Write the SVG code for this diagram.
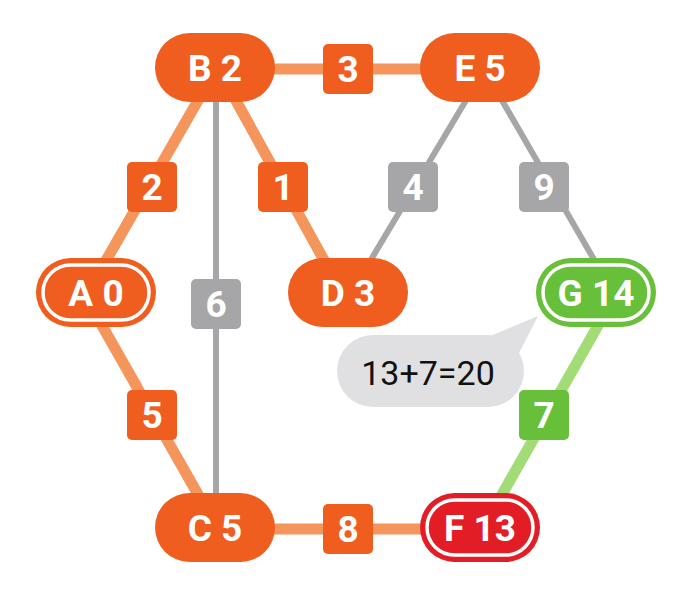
<svg xmlns="http://www.w3.org/2000/svg" width="691" height="590" viewBox="0 0 691 590">
<style>
.e-or{stroke:#F4955C;stroke-width:11;fill:none}
.e-gr{stroke:#A6A6A8;stroke-width:6;fill:none}
.e-gn{stroke:#A3DB77;stroke-width:11;fill:none}
.n-or{fill:#EF5E1E}
.n-gn{fill:#67BF3A}
.n-rd{fill:#E31D25}
.ring{fill:none;stroke:#FFFFFF;stroke-width:3.5}
.t{font-family:Roboto,"Liberation Sans",sans-serif;font-weight:bold;font-size:37px;fill:#FFFFFF;text-anchor:middle}
.l-or{fill:#EF5E1E}
.l-gr{fill:#A6A6A8}
.l-gn{fill:#67BF3A}
</style>
<rect width="691" height="590" fill="#FFFFFF"/>
<g id="connectors">
<line class="e-or" x1="104" y1="264" x2="200" y2="97"/>
<line class="e-or" x1="234" y1="97" x2="325" y2="262"/>
<line class="e-or" x1="270" y1="69" x2="425" y2="69"/>
<line class="e-gr" x1="216" y1="100" x2="216" y2="496"/>
<line class="e-gr" x1="468" y1="97" x2="369" y2="263"/>
<line class="e-gr" x1="500" y1="97" x2="596" y2="263"/>
<line class="e-or" x1="100" y1="322" x2="200" y2="498"/>
<line class="e-or" x1="270" y1="529" x2="425" y2="529"/>
<line class="e-gn" x1="600" y1="322" x2="500" y2="498"/>
<g id="label-3"><rect class="l-or" x="323" y="44" width="50" height="50" rx="5"/><text class="t" x="348" y="82">3</text></g>
<g id="label-2"><rect class="l-or" x="127" y="162" width="50" height="50" rx="5"/><text class="t" x="152" y="200">2</text></g>
<g id="label-1"><rect class="l-or" x="258" y="162" width="50" height="50" rx="5"/><text class="t" x="283" y="200">1</text></g>
<g id="label-6"><rect class="l-gr" x="191" y="279" width="50" height="50" rx="5"/><text class="t" x="216" y="317">6</text></g>
<g id="label-4"><rect class="l-gr" x="388" y="162" width="50" height="50" rx="5"/><text class="t" x="413" y="200">4</text></g>
<g id="label-9"><rect class="l-gr" x="519" y="162" width="50" height="50" rx="5"/><text class="t" x="544" y="200">9</text></g>
<g id="label-5"><rect class="l-or" x="127" y="390" width="50" height="50" rx="5"/><text class="t" x="152" y="428">5</text></g>
<g id="label-7"><rect class="l-gn" x="519" y="390" width="50" height="50" rx="5"/><text class="t" x="544" y="428">7</text></g>
<g id="label-8"><rect class="l-or" x="323" y="504" width="50" height="50" rx="5"/><text class="t" x="348" y="542">8</text></g>
</g>
<g id="node-A"><rect class="n-or" x="36" y="258" width="120" height="69" rx="34.5"/><rect class="ring" x="43" y="265" width="106" height="55" rx="27.5"/><text class="t" x="96" y="306">A 0</text></g>
<g id="node-B"><rect class="n-or" x="155" y="33" width="120" height="69" rx="34.5"/><text class="t" x="215" y="81">B 2</text></g>
<g id="node-E"><rect class="n-or" x="420" y="33" width="120" height="69" rx="34.5"/><text class="t" x="480" y="81">E 5</text></g>
<g id="node-D"><rect class="n-or" x="288" y="258" width="120" height="69" rx="34.5"/><text class="t" x="348" y="306">D 3</text></g>
<g id="node-G"><rect class="n-gn" x="536" y="258" width="120" height="69" rx="34.5"/><rect class="ring" x="543" y="265" width="106" height="55" rx="27.5"/><text class="t" x="596" y="306">G 14</text></g>
<g id="node-C"><rect class="n-or" x="155" y="493" width="120" height="69" rx="34.5"/><text class="t" x="215" y="541">C 5</text></g>
<g id="node-F"><rect class="n-rd" x="420" y="493" width="120" height="69" rx="34.5"/><rect class="ring" x="427" y="500" width="106" height="55" rx="27.5"/><text class="t" x="480" y="541">F 13</text></g>
<g id="bubble">
<polygon points="488,337 538,316 518,355" fill="#E0E0E2"/>
<rect x="337" y="335" width="187" height="72" rx="36" fill="#E0E0E2"/>
<text x="428" y="385" font-family="Roboto,'Liberation Sans',sans-serif" font-size="34" fill="#111111" text-anchor="middle">13+7=20</text>
</g>
</svg>
